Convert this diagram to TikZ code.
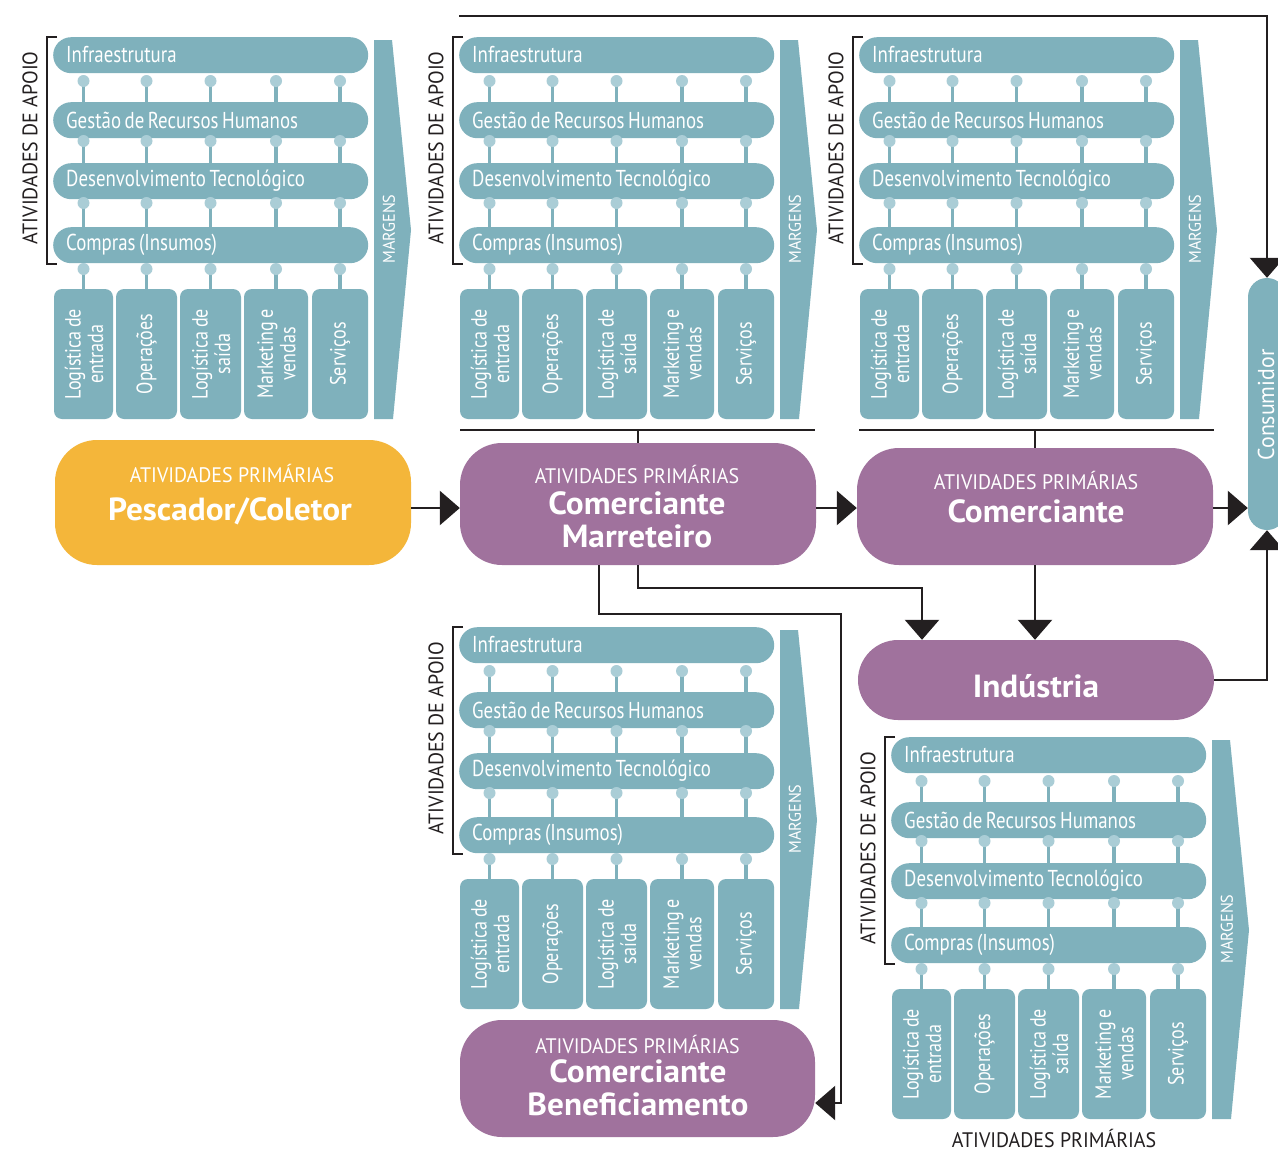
\documentclass[tikz,border=0pt]{standalone}
\usepackage{fontspec}
\setmainfont{PT Sans}[FakeStretch=0.82, WordSpace=0.7]
\newfontfamily\capsfont{PT Sans}[FakeStretch=0.95]
\newfontfamily\namefont{PT Sans}[FakeStretch=1.04]
\usetikzlibrary{arrows.meta}

\definecolor{chain}{HTML}{7FB1BC}
\definecolor{pin}{HTML}{AACDD6}
\definecolor{grape}{HTML}{A0729D}
\definecolor{amber}{HTML}{F4B63A}
\definecolor{ink}{HTML}{231F20}

\tikzset{
  bar/.style={anchor=north west, fill=chain, rounded corners=18pt,
    minimum width=315pt, minimum height=36pt, inner sep=0pt},
  bartext/.style={anchor=west, inner sep=0pt, text=white,
    font=\fontsize{23}{25}\selectfont},
  prim/.style={fill=chain, rounded corners=8pt, minimum height=130pt, inner sep=0pt},
  primtext/.style={rotate=90, text=white, align=center, inner sep=0pt,
    font=\fontsize{22}{22.5}\selectfont},
  stem/.style={draw=chain, line width=3.2pt},
  pinhead/.style={fill=pin},
  margtext/.style={rotate=90, text=white, font=\capsfont\fontsize{17}{18}\selectfont},
  apoio/.style={rotate=90, text=ink, font=\capsfont\fontsize{21}{24}\selectfont},
  stage/.style={rounded corners=42pt, inner sep=0pt},
  captxt/.style={text=white, inner sep=0pt, font=\capsfont\fontsize{21}{24}\selectfont},
  nametxt/.style={text=white, align=center, inner sep=0pt,
    font=\namefont\bfseries\fontsize{32}{33}\selectfont},
  conn/.style={draw=ink, line width=2.6pt, -{Triangle[width=34pt,length=20pt]}},
  rule/.style={draw=ink, line width=2.4pt},
  bracket/.style={draw=ink, line width=1.1pt},
  % one value chain: support activities, primary activities and margin arrow
  vchain/.pic={
    \foreach \sx in {83.5,146.5,210.5,276,340}{
      \foreach \dy/\ey in {81/102,141/163,203/227,269/289}{
        \draw[stem] (\sx,\dy) -- (\sx,\ey);
      }
    }
    \node[bar] (-s1) at (53,37) {};
    \node[bar] (-s2) at (53,102) {};
    \node[bar] (-s3) at (53,163) {};
    \node[bar] (-s4) at (53,227) {};
    \node[bartext] (-t1) at (66,55) {Infraestrutura};
    \node[bartext] (-t2) at (66,120) {Gestão de Recursos Humanos};
    \node[bartext] (-t3) at (66,181) {Desenvolvimento Tecnológico};
    \node[bartext] (-t4) at (66,245) {Compras (Insumos)};
    \foreach \sx in {83.5,146.5,210.5,276,340}{
      \foreach \dy in {81,141,203,269}{
        \fill[pinhead] (\sx,\dy) circle (6pt);
      }
    }
    \node[prim, minimum width=59pt] (-p1) at (83.5,354) {};
    \node[prim, minimum width=61pt] (-p2) at (146.5,354) {};
    \node[prim, minimum width=61pt] (-p3) at (210.5,354) {};
    \node[prim, minimum width=64pt] (-p4) at (276,354) {};
    \node[prim, minimum width=56pt] (-p5) at (340,354) {};
    \node[primtext] (-q1) at (84,354) {Logística de\\entrada};
    \node[primtext] (-q2) at (146.5,354) {Operações};
    \node[primtext] (-q3) at (211,354) {Logística de\\saída};
    \node[primtext] (-q4) at (276.5,354) {Marketing e\\vendas};
    \node[primtext] (-q5) at (340,354) {Serviços};
    \fill[chain] (374,40) -- (392,40) -- (411,230) -- (393,419) -- (374,419) -- cycle;
    \node[margtext] (-m) at (389,229) {MARGENS};
    \draw[bracket] (57,37) -- (47,37) -- (47,264) -- (57,264);
    \node[apoio] (-a) at (30,148) {ATIVIDADES DE APOIO};
  }
}

\begin{document}
\begin{tikzpicture}[x=1pt,y=-1pt]
\useasboundingbox (0,0) rectangle (1278,1151);
\clip (0,0) rectangle (1278,1151);
\fill[white] (0,0) rectangle (1278,1151);

% value chains
\pic (b1) at (0,0) {vchain};
\pic (b2) at (406,0) {vchain};
\pic (b3) at (806,0) {vchain};
\pic (b4) at (406,590) {vchain};
\pic (b5) at (838,700) {vchain};
\node[text=ink, inner sep=0pt, font=\capsfont\fontsize{21}{24}\selectfont] (b5-lab) at (1054,1138) {ATIVIDADES PRIMÁRIAS};

% actors of the chain
\node[stage, fill=amber, minimum width=356pt, minimum height=125pt] (pesc) at (233,502.5) {};
\node[captxt] (pesc-t1) at (232,473) {ATIVIDADES PRIMÁRIAS};
\node[nametxt] (pesc-t2) at (230,511) {Pescador/Coletor};

\node[stage, fill=grape, minimum width=356pt, minimum height=122pt] (marr) at (638,504) {};
\node[captxt] (marr-t1) at (637,474) {ATIVIDADES PRIMÁRIAS};
\node[nametxt] (marr-t2) at (637,520) {Comerciante\\Marreteiro};

\node[stage, fill=grape, minimum width=356pt, minimum height=117pt] (come) at (1035,506.5) {};
\node[captxt] (come-t1) at (1036,480) {ATIVIDADES PRIMÁRIAS};
\node[nametxt] (come-t2) at (1036,511) {Comerciante};

\node[stage, rounded corners=40pt, fill=grape, minimum width=356pt, minimum height=80pt] (indu) at (1036,680) {};
\node[nametxt] (indu-t) at (1036,686) {Indústria};

\node[stage, fill=grape, minimum width=355pt, minimum height=117pt] (bene) at (637.5,1078.5) {};
\node[captxt] (bene-t1) at (637.5,1044) {ATIVIDADES PRIMÁRIAS};
\node[nametxt] (bene-t2) at (638,1088) {Comerciante\\Beneficiamento};

\node[fill=chain, rounded corners=19pt, minimum width=38pt, minimum height=252pt, inner sep=0pt] (cons) at (1267,404) {};
\node[rotate=90, text=white, inner sep=0pt, font=\capsfont\fontsize{23}{24}\selectfont] (cons-t) at (1266,405) {Consumidor};

% ties from chains to actors
\coordinate (u2a) at (460,430);
\coordinate (u2b) at (815,430);
\coordinate (u3a) at (859,430);
\coordinate (u3b) at (1214,430);
\draw[rule] (u2a) -- (u2b);
\draw[rule] (marr.north) -- (marr.north |- u2a);
\draw[rule] (u3a) -- (u3b);
\draw[rule] (come.north) -- (come.north |- u3a);

% flows
\coordinate (mainrow) at (0,508);
\draw[conn] (pesc.east |- mainrow) -- (marr.west |- mainrow);
\draw[conn] (marr.east |- mainrow) -- (come.west |- mainrow);
\draw[conn] (come.east |- mainrow) -- (cons.west |- mainrow);
\draw[conn] (come.south) -- (come.south |- indu.north);
\coordinate (mi) at (922,588);
\draw[conn] (marr.south) |- (mi) -- (mi |- indu.north);
\coordinate (mb) at (841,614);
\coordinate (mbe) at (841,1103);
\draw[conn] ([xshift=-39pt]marr.south) |- (mb) -- (mbe) -- (bene.east |- mbe);
\coordinate (topl) at (459,16);
\draw[conn] (topl) -| (cons.north);
\draw[conn] (indu.east) -| (cons.south);
\end{tikzpicture}
\end{document}
